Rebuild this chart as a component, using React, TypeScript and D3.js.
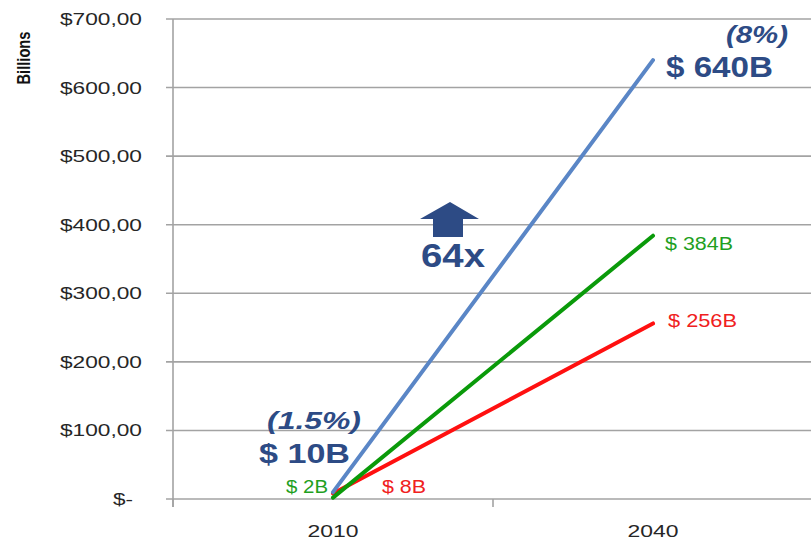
import React from "react";
import * as d3 from "d3";

const categories = ["2010", "2040"];
const yTicks = [0, 100, 200, 300, 400, 500, 600, 700];
const yTickLabels = ["$-", "$100,00", "$200,00", "$300,00", "$400,00", "$500,00", "$600,00", "$700,00"];
const blueSeries = [10, 640];
const greenSeries = [2, 384];
const redSeries = [8, 256];

const W = 811, H = 540;

export default function App() {
  const x = d3.scaleBand<string>().domain(categories).range([173, 813]).padding(0);
  const y = d3.scaleLinear().domain([0, 700]).range([499, 19]);
  const cx = (c: string) => (x(c) as number) + x.bandwidth() / 2;
  const line = d3.line<[string, number]>().x((d) => cx(d[0])).y((d) => y(d[1]));
  const pairs = (s: number[]) => categories.map((c, i) => [c, s[i]] as [string, number]);
  const font = "Arial, 'Liberation Sans', Helvetica, sans-serif";
  const dark = "#2D4B85";
  const bandEdges = [173, ...categories.map((c) => (x(c) as number) + x.bandwidth())];

  const ax = 450, ay = 202;
  const arrow = `M${ax},${ay} L${ax + 29},${ay + 17} L${ax + 13},${ay + 17} L${ax + 13},${ay + 35} L${ax - 17},${ay + 35} L${ax - 17},${ay + 17} L${ax - 30},${ay + 17} Z`;

  const T = (props: { x: number; y: number; w: number; size: number; fill: string; bold?: boolean; italic?: boolean; children: string }) => (
    <text
      x={props.x}
      y={props.y}
      fontSize={props.size}
      fill={props.fill}
      fontWeight={props.bold ? "bold" : "normal"}
      fontStyle={props.italic ? "italic" : "normal"}
      textLength={props.w}
      lengthAdjust="spacingAndGlyphs"
    >
      {props.children}
    </text>
  );

  return (
    <svg width={W} height={H} style={{ position: "absolute", left: 0, top: 0, background: "#fff" }} fontFamily={font}>
      {yTicks.map((t, i) => {
        const w = t === 0 ? 20 : 82;
        const right = t === 0 ? 133 : 142;
        return (
          <g key={t}>
            <line x1={166} x2={W} y1={y(t)} y2={y(t)} stroke="#a3a3a3" strokeWidth={1.6} />
            <T x={right - w} y={y(t) + 6} w={w} size={16.5} fill="#262626">{yTickLabels[i]}</T>
          </g>
        );
      })}
      <line x1={173} x2={173} y1={19} y2={507} stroke="#a3a3a3" strokeWidth={1.6} />
      {bandEdges.map((e, i) => (
        <line key={i} x1={e} x2={e} y1={499} y2={507} stroke="#a3a3a3" strokeWidth={1.6} />
      ))}
      {categories.map((c) => (
        <T key={c} x={cx(c) - 25.5} y={537} w={51} size={16.5} fill="#262626">{c}</T>
      ))}
      <text
        transform="translate(30,58) rotate(-90)"
        textAnchor="middle"
        fontSize={18}
        fontWeight="bold"
        fill="#111"
        textLength={53}
        lengthAdjust="spacingAndGlyphs"
      >
        Billions
      </text>

      <path d={line(pairs(redSeries)) as string} stroke="#FF1010" strokeWidth={4} fill="none" strokeLinecap="round" />
      <path d={line(pairs(greenSeries)) as string} stroke="#0A9A0A" strokeWidth={4} fill="none" strokeLinecap="round" />
      <path d={line(pairs(blueSeries)) as string} stroke="#5A86C6" strokeWidth={4} fill="none" strokeLinecap="round" />

      <path d={arrow} fill={dark} />
      <T x={421} y={267} w={64} size={33} fill={dark} bold>64x</T>

      <T x={726} y={43} w={62} size={24} fill={dark} bold italic>(8%)</T>
      <T x={666} y={77} w={107} size={30} fill={dark} bold>$ 640B</T>

      <T x={267} y={429} w={94} size={24} fill={dark} bold italic>(1.5%)</T>
      <T x={259} y={463} w={91} size={28} fill={dark} bold>$ 10B</T>

      <T x={286} y={493} w={42} size={17.5} fill="#1FA01F">$ 2B</T>
      <T x={382} y={493} w={44} size={17.5} fill="#F02020">$ 8B</T>
      <T x={665} y={250} w={68} size={17.5} fill="#1FA01F">$ 384B</T>
      <T x={668} y={327} w={69} size={17.5} fill="#F02020">$ 256B</T>
    </svg>
  );
}
